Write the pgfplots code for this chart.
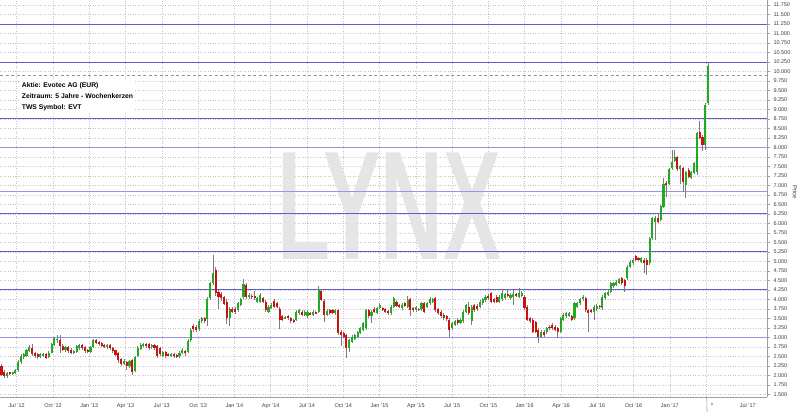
\documentclass[border=0pt]{standalone}
\usepackage{fontspec}
\setmainfont{Liberation Sans}
\usepackage{graphicx}
\usepackage{pgfplots}
\usepackage{pgfplotstable}
\pgfplotsset{compat=1.18}
\definecolor{up}{RGB}{34,170,34}
\definecolor{dn}{RGB}{204,17,17}
\definecolor{wick}{RGB}{125,125,125}
\definecolor{lvl}{RGB}{95,95,200}
\definecolor{lvllt}{RGB}{150,150,228}

% weekly candles: week index, open, high, low, close
\pgfplotstableread{
n o h l c
0 2.25 2.30 1.97 2.02
1 2.10 2.15 1.93 1.98
2 1.98 2.08 1.93 2.05
3 2.08 2.10 2.00 2.04
4 2.04 2.10 2.01 2.08
5 2.06 2.17 2.03 2.13
6 2.13 2.40 2.10 2.35
7 2.35 2.55 2.30 2.50
8 2.48 2.58 2.44 2.55
9 2.52 2.70 2.48 2.66
10 2.65 2.80 2.62 2.74
11 2.72 2.82 2.50 2.56
12 2.58 2.61 2.46 2.50
13 2.55 2.58 2.43 2.48
14 2.48 2.58 2.45 2.55
15 2.52 2.60 2.49 2.57
16 2.55 2.58 2.42 2.47
17 2.48 2.63 2.45 2.60
18 2.60 2.85 2.58 2.82
19 2.80 3.00 2.76 2.98
20 2.93 3.05 2.85 2.97
21 2.92 3.06 2.60 2.78
22 2.77 2.82 2.63 2.68
23 2.68 2.78 2.62 2.75
24 2.75 2.78 2.60 2.65
25 2.68 2.72 2.55 2.60
26 2.60 2.66 2.56 2.63
27 2.62 2.80 2.58 2.78
28 2.72 2.83 2.68 2.80
29 2.80 2.83 2.68 2.72
30 2.74 2.76 2.60 2.64
31 2.66 2.70 2.58 2.62
32 2.62 2.76 2.60 2.74
33 2.74 2.96 2.72 2.93
34 2.93 2.96 2.82 2.86
35 2.88 2.90 2.78 2.82
36 2.84 2.87 2.74 2.78
37 2.80 2.83 2.72 2.75
38 2.74 2.83 2.70 2.80
39 2.80 2.83 2.68 2.72
40 2.72 2.75 2.60 2.64
41 2.66 2.68 2.50 2.54
42 2.58 2.62 2.33 2.40
43 2.42 2.45 2.25 2.30
44 2.30 2.42 2.26 2.38
45 2.35 2.38 2.15 2.24
46 2.25 2.40 2.20 2.38
47 2.40 2.42 2.02 2.10
48 2.12 2.50 2.08 2.48
49 2.50 2.76 2.48 2.72
50 2.70 2.84 2.66 2.80
51 2.78 2.86 2.75 2.82
52 2.82 2.85 2.72 2.76
53 2.82 2.86 2.68 2.72
54 2.74 2.83 2.70 2.80
55 2.80 2.83 2.68 2.72
56 2.76 2.80 2.45 2.50
57 2.72 2.75 2.50 2.55
58 2.52 2.65 2.48 2.62
59 2.62 2.65 2.47 2.52
60 2.56 2.60 2.50 2.53
61 2.52 2.60 2.48 2.56
62 2.56 2.58 2.45 2.52
63 2.54 2.57 2.46 2.50
64 2.50 2.63 2.47 2.60
65 2.60 2.72 2.56 2.68
66 2.64 2.68 2.52 2.58
67 2.62 2.95 2.58 2.90
68 2.92 3.25 2.88 3.20
69 3.30 3.35 3.15 3.21
70 3.28 3.32 3.15 3.19
71 3.21 3.48 3.18 3.44
72 3.42 3.54 3.38 3.50
73 3.50 3.53 3.38 3.42
74 3.48 4.05 3.30 4.00
75 4.03 4.45 3.98 4.42
76 4.42 5.17 4.38 4.69
77 4.77 4.85 4.10 4.16
78 4.20 4.25 3.76 4.06
79 4.15 4.20 3.95 4.03
80 4.07 4.10 3.84 3.88
81 3.92 4.00 3.35 3.50
82 3.50 3.80 3.30 3.76
83 3.76 3.80 3.64 3.68
84 3.76 3.80 3.62 3.66
85 3.72 3.94 3.68 3.90
86 3.85 4.04 3.82 4.00
87 4.07 4.53 4.00 4.41
88 4.38 4.42 4.02 4.07
89 4.06 4.16 4.02 4.12
90 4.10 4.14 4.00 4.06
91 4.10 4.23 3.99 4.03
92 3.94 4.07 3.90 4.03
93 3.94 4.16 3.90 4.12
94 4.03 4.07 3.90 3.94
95 3.94 3.98 3.68 3.72
96 3.68 3.84 3.64 3.80
97 3.77 3.90 3.74 3.86
98 3.96 4.00 3.78 3.81
99 3.90 3.93 3.77 3.81
100 3.76 3.80 3.21 3.46
101 3.55 3.58 3.42 3.46
102 3.50 3.56 3.48 3.53
103 3.55 3.58 3.46 3.50
104 3.50 3.53 3.38 3.42
105 3.46 3.49 3.38 3.42
106 3.46 3.72 3.43 3.68
107 3.64 3.76 3.60 3.72
108 3.68 3.72 3.55 3.59
109 3.60 3.72 3.56 3.68
110 3.55 3.72 3.52 3.68
111 3.64 3.67 3.59 3.61
112 3.60 3.72 3.57 3.68
113 3.66 3.69 3.61 3.63
114 3.68 4.34 3.65 4.25
115 4.23 4.28 3.95 3.98
116 3.97 4.00 3.40 3.59
117 3.60 3.74 3.56 3.70
118 3.72 3.76 3.60 3.64
119 3.72 3.75 3.61 3.65
120 3.64 3.76 3.60 3.72
121 3.72 3.76 3.05 3.11
122 3.15 3.20 2.76 3.06
123 3.12 3.15 2.98 3.02
124 3.06 3.10 2.45 2.71
125 2.71 2.96 2.62 2.93
126 2.89 3.05 2.86 3.02
127 2.97 3.09 2.94 3.06
128 3.02 3.18 2.98 3.15
129 3.11 3.27 3.08 3.24
130 3.20 3.40 3.17 3.37
131 3.24 3.76 3.20 3.72
132 3.72 3.76 3.50 3.55
133 3.55 3.72 3.37 3.68
134 3.76 3.79 3.64 3.68
135 3.65 3.80 3.62 3.77
136 3.77 3.90 3.74 3.86
137 3.77 3.80 3.70 3.74
138 3.74 3.77 3.64 3.68
139 3.70 3.73 3.58 3.63
140 3.65 3.85 3.60 3.81
141 3.81 4.07 3.78 4.03
142 3.94 3.98 3.79 3.83
143 3.85 3.88 3.77 3.81
144 3.77 3.90 3.73 3.86
145 3.90 3.93 3.79 3.83
146 3.81 4.09 3.77 3.98
147 4.00 4.03 3.55 3.72
148 3.77 3.80 3.68 3.72
149 3.72 3.83 3.68 3.79
150 3.75 3.78 3.69 3.72
151 3.74 3.94 3.70 3.90
152 3.90 3.93 3.64 3.68
153 3.81 3.94 3.77 3.90
154 3.90 4.07 3.86 4.00
155 3.94 4.04 3.90 4.00
156 4.03 4.07 3.68 3.72
157 3.74 3.78 3.59 3.63
158 3.68 3.72 3.51 3.55
159 3.59 3.63 3.46 3.50
160 3.55 3.58 3.44 3.48
161 3.46 3.50 3.02 3.20
162 3.24 3.41 3.20 3.37
163 3.33 3.46 3.30 3.42
164 3.46 3.50 3.33 3.37
165 3.39 3.50 3.35 3.46
166 3.42 3.72 3.38 3.68
167 3.68 3.89 3.64 3.85
168 3.81 3.92 3.59 3.63
169 3.42 3.85 3.33 3.81
170 3.85 3.89 3.68 3.72
171 3.83 3.87 3.70 3.74
172 3.81 3.98 3.77 3.94
173 3.90 4.04 3.86 4.00
174 3.98 4.11 3.94 4.07
175 4.09 4.13 3.99 4.03
176 4.16 4.20 3.90 3.94
177 4.00 4.04 3.90 3.94
178 4.07 4.11 3.90 3.94
179 3.94 4.11 3.90 4.07
180 4.00 4.27 3.96 4.16
181 4.03 4.18 3.99 4.14
182 4.13 4.25 4.05 4.10
183 4.03 4.16 3.99 4.12
184 4.07 4.25 3.85 4.14
185 4.14 4.18 4.06 4.10
186 4.07 4.29 4.03 4.16
187 4.09 4.22 4.05 4.18
188 4.07 4.11 3.73 3.77
189 3.81 3.85 3.42 3.46
190 3.50 3.54 3.38 3.42
191 3.46 3.50 3.11 3.15
192 3.40 3.44 3.11 3.15
193 3.20 3.24 2.85 3.02
194 3.02 3.19 2.98 3.15
195 3.15 3.19 3.02 3.06
196 3.13 3.28 3.09 3.24
197 3.28 3.32 3.20 3.24
198 3.33 3.37 3.20 3.24
199 3.28 3.32 3.16 3.20
200 3.24 3.28 2.98 3.13
201 3.15 3.54 3.11 3.50
202 3.46 3.63 3.42 3.59
203 3.55 3.68 3.51 3.64
204 3.57 3.67 3.53 3.63
205 3.55 3.59 3.42 3.46
206 3.50 3.94 3.46 3.90
207 3.81 3.94 3.77 3.90
208 3.90 4.04 3.86 4.00
209 4.00 4.12 3.96 4.07
210 4.03 4.07 3.68 3.72
211 3.72 3.76 3.15 3.63
212 3.72 3.76 3.64 3.68
213 3.68 3.85 3.46 3.81
214 3.74 3.87 3.70 3.83
215 3.83 3.86 3.76 3.80
216 3.77 4.11 3.73 4.07
217 4.03 4.20 3.99 4.16
218 4.12 4.24 4.08 4.20
219 4.20 4.46 4.16 4.42
220 4.34 4.46 4.30 4.42
221 4.38 4.51 4.34 4.47
222 4.44 4.57 4.40 4.53
223 4.56 4.60 4.38 4.42
224 4.50 4.54 4.20 4.34
225 4.56 4.90 4.52 4.86
226 4.86 5.03 4.82 4.99
227 4.95 5.08 4.91 5.04
228 5.13 5.17 5.00 5.04
229 5.09 5.12 5.02 5.06
230 4.99 5.12 4.95 5.08
231 5.04 5.08 4.69 4.95
232 5.04 5.08 4.64 4.90
233 4.95 5.65 4.91 5.61
234 5.61 6.17 5.57 6.13
235 6.05 6.20 5.57 6.13
236 6.13 6.27 6.01 6.05
237 6.10 6.49 6.06 6.45
238 6.44 7.20 6.40 7.05
239 7.07 7.11 6.70 7.03
240 7.05 7.46 7.01 7.42
241 7.45 7.93 7.41 7.63
242 7.65 7.93 7.61 7.74
243 7.74 7.78 7.38 7.42
244 7.42 7.54 7.05 7.50
245 7.45 7.49 6.84 7.10
246 7.00 7.39 6.66 7.35
247 7.41 7.45 7.19 7.23
248 7.20 7.39 7.16 7.35
249 7.33 7.62 7.29 7.58
250 7.36 8.41 7.27 8.37
251 8.41 8.70 8.22 8.26
252 8.28 8.32 7.90 8.06
253 8.06 9.16 7.93 9.12
254 9.16 10.23 9.12 10.14
}\candles

\begin{document}
\begin{tikzpicture}
\useasboundingbox (0,-15pt) rectangle (800pt,397pt);
\begin{axis}[
 at={(0,0)}, anchor=south west,
 scale only axis, width=767pt, height=397pt,
 xmin=-0.54, xmax=275.2, ymin=1.43, ymax=11.883,
 clip=false,
 axis x line*=bottom, axis y line*=right,
 axis line style={-, draw=gray!75, line width=0.6pt},
 xtick={5.46,18.51,31.55,44.6,57.64,70.69,83.73,96.78,109.82,122.87,135.91,148.96,162.0,175.05,188.09,201.14,214.18,227.23,240.27,253.32},
 xticklabels={Jul '12,Oct '12,Jan '13,Apr '13,Jul '13,Oct '13,Jan '14,Apr '14,Jul '14,Oct '14,Jan '15,Apr '15,Jul '15,Oct '15,Jan '16,Apr '16,Jul '16,Oct '16,Jan '17,{}},
 extra x ticks={268.3}, extra x tick labels={Jul '17}, extra x tick style={grid=none},
 xtick style={draw=none},
 ytick={1.5,1.75,...,11.75},
 ytick style={draw=gray!75},
 tick align=outside, major tick length=3pt,
 /pgf/number format/assume math mode=true,
 yticklabel style={/pgf/number format/.cd, fixed, fixed zerofill, precision=3, 1000 sep={}},
 tick label style={font=\fontsize{5.5}{6}\selectfont, text=black!75},
 xmajorgrids, ymajorgrids,
 major grid style={gray!45, dash pattern=on 1pt off 1.5pt, line width=0.5pt},
]
\node[text=black!10, font=\fontsize{155}{155}\selectfont\bfseries] at (rel axis cs:0.508,0.481) {\scalebox{0.56}[1]{LYNX}};
\node[anchor=north west, fill=white, align=left, inner sep=2pt,
  font=\fontsize{6.8}{11}\selectfont\bfseries] at (rel axis cs:0.0257,0.7985)
  {Aktie: Evotec AG (EUR)\\Zeitraum: 5 Jahre - Wochenkerzen\\TWS Symbol: EVT};
% level lines
\addplot[draw=lvl, line width=1pt, mark=none] coordinates {(-0.54,11.25) (275.2,11.25)};
\addplot[draw=lvl, line width=1pt, mark=none] coordinates {(-0.54,10.25) (275.2,10.25)};
\addplot[draw=lvl, line width=1pt, mark=none] coordinates {(-0.54,8.75) (275.2,8.75)};
\addplot[draw=lvllt, line width=1pt, mark=none] coordinates {(-0.54,8.0) (275.2,8.0)};
\addplot[draw=lvllt, line width=1pt, mark=none] coordinates {(-0.54,6.85) (275.2,6.85)};
\addplot[draw=lvl, line width=1pt, mark=none] coordinates {(-0.54,6.25) (275.2,6.25)};
\addplot[draw=lvl, line width=1pt, mark=none] coordinates {(-0.54,5.25) (275.2,5.25)};
\addplot[draw=lvl, line width=1pt, mark=none] coordinates {(-0.54,4.25) (275.2,4.25)};
\addplot[draw=lvllt, line width=1pt, mark=none] coordinates {(-0.54,3.0) (275.2,3.0)};
\addplot[draw=gray!85, line width=0.7pt, mark=none, dash pattern=on 3pt off 2.5pt] coordinates {(-0.54,9.91) (275.2,9.91)};
% wicks
\addplot[draw=none, mark=none,
  error bars/.cd, y dir=both, y explicit, error mark=none,
  error bar style={draw=wick, line width=0.7pt, solid}]
  table[x=n, y expr={0.5*(\thisrow{h}+\thisrow{l})}, y error expr={0.5*(\thisrow{h}-\thisrow{l})}] {\candles};
% rising bodies
\addplot[draw=none, mark=none, unbounded coords=discard,
  error bars/.cd, y dir=both, y explicit, error mark=none,
  error bar style={draw=up, line width=2.1pt, solid}]
  table[x=n, y expr={\thisrow{c}>=\thisrow{o} ? 0.5*(\thisrow{o}+\thisrow{c}) : nan}, y error expr={0.5*abs(\thisrow{c}-\thisrow{o})}] {\candles};
% falling bodies
\addplot[draw=none, mark=none, unbounded coords=discard,
  error bars/.cd, y dir=both, y explicit, error mark=none,
  error bar style={draw=dn, line width=2.1pt, solid}]
  table[x=n, y expr={\thisrow{c}<\thisrow{o} ? 0.5*(\thisrow{o}+\thisrow{c}) : nan}, y error expr={0.5*abs(\thisrow{c}-\thisrow{o})}] {\candles};
\draw[gray!75, line width=0.6pt] (rel axis cs:0.9214,0) -- ++(0,-15pt);
\node[anchor=north, inner sep=0pt, font=\fontsize{6}{6}\selectfont, text=black!70] at (rel axis cs:0.9283,0) [yshift=-6pt] {+};
\node[rotate=-90, font=\fontsize{6}{6}\selectfont, text=black!75] at (rel axis cs:1.0365,0.516) {Price};
\end{axis}
\end{tikzpicture}
\end{document}
